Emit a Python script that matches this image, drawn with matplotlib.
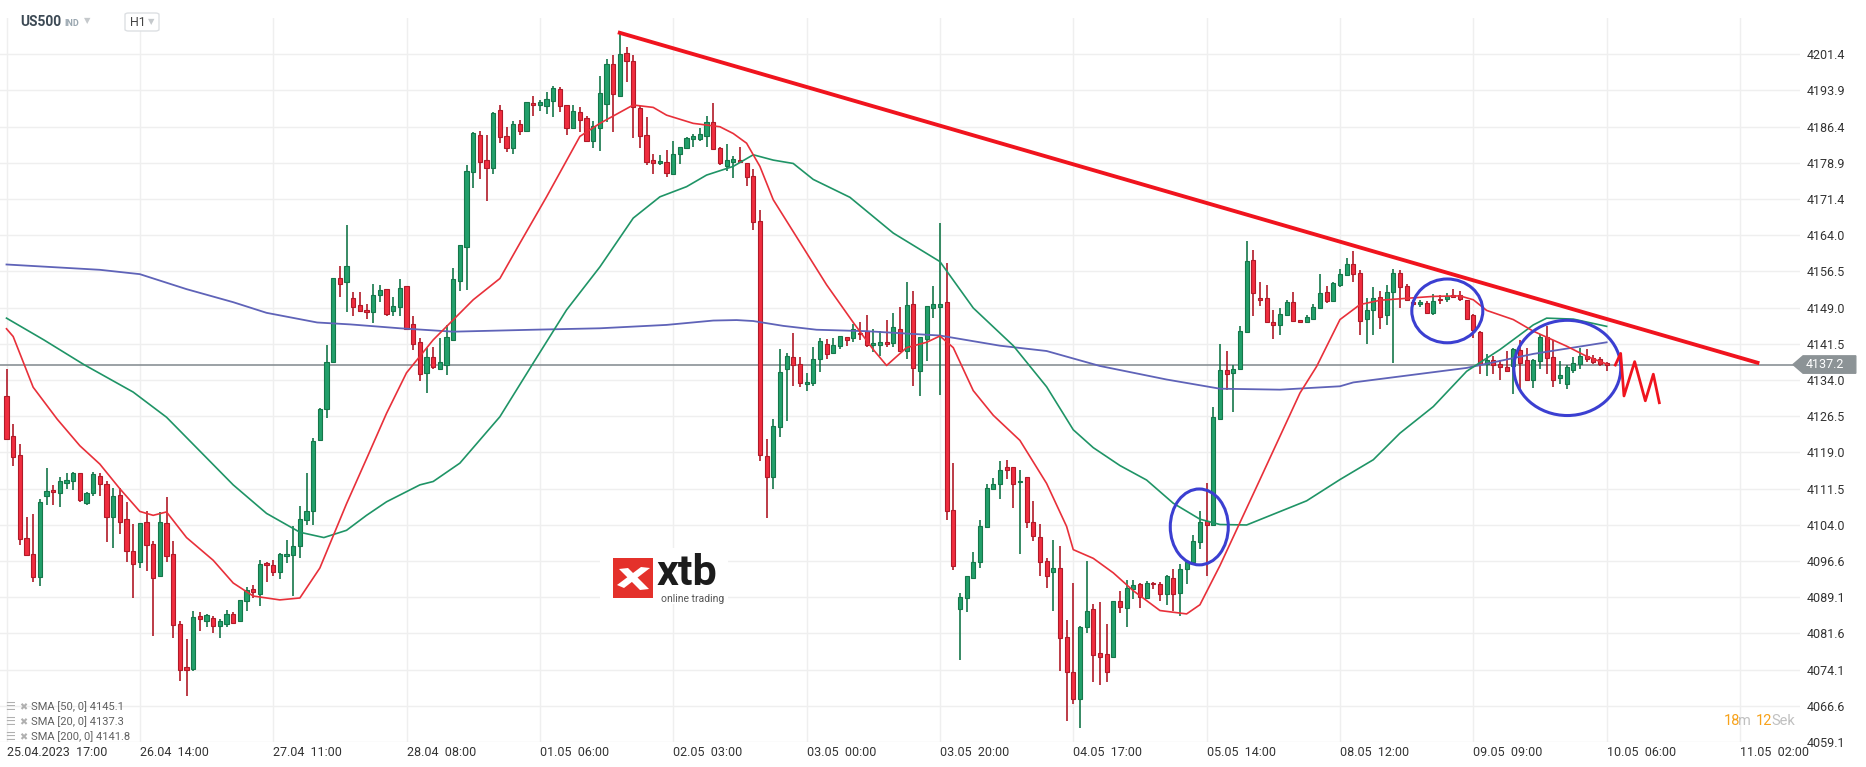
import matplotlib
matplotlib.use("Agg")
import matplotlib.pyplot as plt
from matplotlib.patches import Ellipse, Polygon, Rectangle, FancyBboxPatch
import numpy as np

plt.rcParams['font.family'] = ['Roboto', 'DejaVu Sans']

# US500, H1 kaarsen vanaf 25.04.2023 17:00 (open, high, low, close)
open_ = [4130.6, 4122.4, 4118.4, 4101.4, 4098.1, 4093.2, 4109.9, 4111.3, 4110.6, 4112.6,
         4113.1, 4114.8, 4108.6, 4110.6, 4114.2, 4112.4, 4105.7, 4110.3, 4105.3, 4098.6,
         4096.3, 4104.6, 4100.0, 4093.4, 4104.5, 4098.1, 4083.6, 4074.6, 4074.2, 4085.2,
         4084.2, 4084.8, 4083.1, 4083.6, 4085.6, 4084.2, 4088.3, 4090.8, 4089.8, 4096.1,
         4095.7, 4094.2, 4097.5, 4097.7, 4099.6, 4105.1, 4106.8, 4121.6, 4127.9, 4137.8,
         4155.1, 4154.2, 4150.9, 4149.5, 4148.5, 4148.1, 4151.6, 4152.8, 4148.3, 4149.1,
         4153.4, 4145.6, 4141.8, 4135.4, 4138.8, 4136.2, 4137.1, 4142.2, 4154.4, 4161.6,
         4177.1, 4184.7, 4179.5, 4177.8, 4189.9, 4184.5, 4182.1, 4187.0, 4185.6, 4191.3,
         4191.0, 4190.6, 4191.8, 4194.2, 4190.8, 4186.1, 4189.4, 4188.2, 4183.5, 4186.1,
         4191.1, 4199.3, 4192.8, 4201.6, 4200.0, 4190.2, 4184.7, 4179.5, 4178.8, 4179.1,
         4176.6, 4180.7, 4181.9, 4183.8, 4183.8, 4184.4, 4187.3, 4181.9, 4178.2, 4179.2,
         4179.5, 4178.8, 4176.3, 4166.9, 4118.2, 4114.0, 4124.2, 4136.2, 4138.8, 4137.3,
         4133.1, 4133.3, 4138.3, 4141.5, 4139.6, 4141.1, 4142.8, 4142.6, 4143.8, 4144.1,
         4141.2, 4141.2, 4141.8, 4141.6, 4144.6, 4140.1, 4149.8, 4135.8, 4142.4, 4148.9,
         4149.1, 4150.1, 4107.1, 4086.7, 4088.8, 4093.1, 4096.3, 4103.6, 4111.5, 4112.4,
         4115.9, 4115.9, 4112.8, 4113.9, 4104.6, 4101.5, 4096.5, 4094.3, 4095.1, 4080.9,
         4073.5, 4068.1, 4082.9, 4086.6, 4077.6, 4077.3, 4076.7, 4088.2, 4086.9, 4090.8,
         4091.7, 4088.9, 4092.0, 4091.7, 4089.8, 4093.1, 4090.0, 4094.8, 4096.3, 4100.4,
         4104.8, 4104.1, 4125.9, 4136.0, 4135.4, 4136.3, 4143.9, 4158.8, 4151.0, 4151.0,
         4145.9, 4145.3, 4147.5, 4150.1, 4146.5, 4146.1, 4146.6, 4148.9, 4152.2, 4150.3,
         4153.7, 4155.8, 4158.0, 4156.1, 4146.6, 4148.5, 4151.2, 4147.5, 4152.2, 4156.1,
         4153.4, 4150.1, 4149.7, 4149.9, 4147.9, 4150.8, 4150.8, 4151.5, 4151.5, 4150.5,
         4147.4, 4143.9, 4137.3, 4138.2, 4137.3, 4136.6, 4136.8, 4140.3, 4138.1, 4133.9,
         4137.9, 4142.9, 4138.7, 4134.4, 4133.2, 4136.1, 4137.3, 4139.0, 4138.5, 4138.3,
         4137.5]

high = [4136.3, 4124.9, 4120.8, 4105.7, 4106.2, 4109.3, 4115.8, 4112.3, 4114.0, 4114.8,
        4115.0, 4114.8, 4110.9, 4115.0, 4114.8, 4113.1, 4111.7, 4111.7, 4108.8, 4104.3,
        4104.5, 4106.8, 4100.7, 4106.6, 4109.8, 4100.6, 4084.2, 4080.5, 4086.2, 4085.9,
        4085.6, 4085.2, 4084.6, 4086.4, 4085.9, 4088.4, 4091.2, 4091.6, 4096.8, 4096.3,
        4096.8, 4098.2, 4100.8, 4103.7, 4108.0, 4114.8, 4122.0, 4128.3, 4141.3, 4155.1,
        4157.5, 4166.0, 4152.2, 4152.3, 4149.8, 4153.8, 4153.7, 4152.8, 4151.2, 4154.8,
        4153.4, 4147.3, 4142.6, 4140.6, 4140.8, 4142.6, 4145.4, 4157.1, 4161.9, 4178.5,
        4185.4, 4185.5, 4184.7, 4189.5, 4190.8, 4186.4, 4187.5, 4187.8, 4191.6, 4192.8,
        4191.9, 4193.6, 4194.8, 4194.6, 4190.8, 4190.9, 4190.4, 4188.6, 4187.6, 4196.9,
        4200.4, 4201.3, 4205.9, 4202.8, 4201.3, 4190.7, 4188.4, 4180.8, 4180.6, 4181.6,
        4183.4, 4182.2, 4184.2, 4184.8, 4186.1, 4188.6, 4191.3, 4182.3, 4182.8, 4180.4,
        4182.3, 4178.8, 4177.6, 4169.2, 4121.7, 4125.9, 4140.4, 4139.5, 4143.7, 4138.7,
        4135.4, 4140.9, 4142.6, 4142.4, 4142.7, 4143.1, 4143.0, 4145.5, 4145.9, 4147.5,
        4144.6, 4144.1, 4146.4, 4147.8, 4149.1, 4154.3, 4152.4, 4142.8, 4149.4, 4153.5,
        4166.4, 4158.3, 4116.8, 4090.0, 4093.4, 4098.4, 4105.1, 4112.5, 4113.7, 4117.2,
        4117.4, 4116.1, 4115.3, 4113.9, 4108.9, 4104.3, 4097.2, 4100.9, 4099.7, 4084.3,
        4091.9, 4083.0, 4096.5, 4087.6, 4088.0, 4083.6, 4088.2, 4090.4, 4092.6, 4092.6,
        4091.9, 4092.4, 4092.3, 4092.3, 4093.7, 4094.8, 4096.0, 4096.5, 4101.9, 4106.8,
        4112.6, 4128.5, 4141.5, 4139.9, 4137.2, 4145.1, 4162.8, 4161.0, 4154.3, 4153.7,
        4148.5, 4149.0, 4150.6, 4152.3, 4146.5, 4147.5, 4149.8, 4155.9, 4153.4, 4154.2,
        4157.0, 4159.2, 4160.6, 4156.8, 4151.0, 4153.2, 4152.5, 4153.7, 4157.0, 4156.8,
        4153.9, 4150.6, 4150.6, 4150.3, 4151.7, 4151.5, 4152.0, 4152.8, 4152.5, 4150.5,
        4147.7, 4144.2, 4139.4, 4138.9, 4138.2, 4139.9, 4140.6, 4142.3, 4140.6, 4138.3,
        4143.6, 4145.1, 4142.2, 4137.9, 4137.2, 4138.8, 4140.6, 4140.4, 4139.2, 4138.8,
        4137.7]

low = [4121.6, 4116.2, 4099.8, 4097.6, 4092.2, 4091.4, 4108.2, 4108.2, 4107.8, 4111.5,
       4111.3, 4108.8, 4108.1, 4110.1, 4110.1, 4100.4, 4099.2, 4102.1, 4096.3, 4088.9,
       4095.0, 4094.4, 4081.1, 4093.3, 4096.3, 4080.7, 4071.8, 4068.6, 4073.7, 4082.1,
       4082.8, 4081.7, 4080.6, 4082.8, 4083.6, 4084.2, 4086.2, 4088.9, 4087.2, 4092.2,
       4093.4, 4092.8, 4096.1, 4089.4, 4097.1, 4103.9, 4103.9, 4121.4, 4126.1, 4137.6,
       4151.1, 4148.1, 4147.3, 4148.1, 4146.7, 4145.8, 4150.2, 4147.2, 4147.3, 4147.3,
       4144.4, 4140.2, 4133.7, 4131.4, 4136.3, 4136.2, 4135.1, 4142.2, 4152.5, 4152.6,
       4173.7, 4175.6, 4171.1, 4176.6, 4183.1, 4181.1, 4180.8, 4184.7, 4185.5, 4188.6,
       4189.7, 4189.0, 4188.5, 4189.5, 4184.7, 4186.1, 4185.4, 4183.3, 4181.9, 4181.3,
       4187.3, 4185.4, 4192.6, 4195.7, 4184.0, 4182.1, 4178.4, 4176.7, 4178.4, 4175.9,
       4176.6, 4178.6, 4181.9, 4182.3, 4183.5, 4182.3, 4181.7, 4178.4, 4177.3, 4175.7,
       4178.8, 4174.2, 4165.1, 4117.3, 4105.5, 4111.5, 4122.3, 4125.6, 4132.8, 4132.6,
       4131.8, 4132.8, 4135.7, 4138.3, 4139.5, 4140.4, 4141.1, 4141.8, 4142.2, 4140.9,
       4139.8, 4139.0, 4140.9, 4140.9, 4139.8, 4138.3, 4132.8, 4130.6, 4138.0, 4146.8,
       4130.9, 4105.0, 4094.7, 4076.0, 4086.0, 4093.0, 4095.0, 4103.6, 4111.3, 4109.3,
       4113.5, 4107.6, 4098.0, 4103.4, 4100.6, 4093.5, 4090.9, 4086.3, 4073.8, 4063.4,
       4066.9, 4062.1, 4081.7, 4071.5, 4070.8, 4071.5, 4076.7, 4085.7, 4082.8, 4088.6,
       4086.9, 4088.8, 4090.8, 4088.3, 4087.4, 4086.3, 4085.2, 4091.7, 4096.0, 4099.1,
       4093.4, 4103.9, 4125.7, 4131.9, 4127.3, 4136.1, 4143.7, 4147.3, 4149.4, 4145.9,
       4142.5, 4143.4, 4147.3, 4145.9, 4145.8, 4146.1, 4146.5, 4148.7, 4149.9, 4150.1,
       4153.2, 4155.8, 4154.2, 4143.4, 4141.4, 4143.4, 4144.5, 4145.3, 4137.5, 4149.0,
       4150.3, 4149.6, 4149.2, 4147.7, 4147.4, 4149.8, 4150.1, 4151.0, 4150.3, 4146.6,
       4142.7, 4135.3, 4134.8, 4135.3, 4134.1, 4135.6, 4131.0, 4132.0, 4133.7, 4132.3,
       4136.3, 4135.2, 4132.5, 4133.2, 4132.1, 4135.4, 4136.3, 4137.7, 4137.4, 4137.0,
       4135.8]

close = [4121.8, 4118.1, 4101.1, 4097.7, 4093.3, 4108.8, 4111.0, 4110.9, 4113.1, 4113.4,
         4114.8, 4109.2, 4110.6, 4114.5, 4112.5, 4105.7, 4109.9, 4104.7, 4098.6, 4095.9,
         4104.5, 4099.8, 4093.0, 4104.6, 4097.6, 4083.4, 4073.9, 4073.9, 4085.0, 4084.5,
         4085.4, 4083.1, 4084.1, 4085.6, 4083.8, 4088.4, 4090.5, 4090.1, 4095.9, 4095.7,
         4094.2, 4098.0, 4097.9, 4099.6, 4105.3, 4106.8, 4121.4, 4128.0, 4137.8, 4155.1,
         4153.8, 4157.5, 4149.1, 4148.3, 4148.1, 4151.6, 4152.6, 4147.7, 4149.3, 4153.1,
         4144.6, 4141.5, 4135.2, 4138.7, 4136.6, 4137.8, 4142.8, 4154.8, 4161.9, 4177.3,
         4185.1, 4179.2, 4177.9, 4189.2, 4184.2, 4182.1, 4186.9, 4185.6, 4191.5, 4190.8,
         4191.5, 4192.2, 4194.4, 4190.6, 4186.1, 4189.7, 4187.7, 4183.5, 4186.6, 4193.3,
         4199.4, 4193.1, 4201.5, 4200.1, 4190.4, 4184.4, 4179.2, 4179.0, 4179.3, 4176.9,
         4180.7, 4182.2, 4184.0, 4184.4, 4184.8, 4187.3, 4181.7, 4179.0, 4179.5, 4179.7,
         4179.1, 4175.9, 4166.6, 4118.5, 4114.0, 4124.4, 4135.7, 4139.0, 4137.1, 4133.3,
         4133.5, 4138.3, 4142.1, 4139.4, 4141.2, 4143.1, 4142.2, 4144.6, 4143.5, 4141.2,
         4141.7, 4141.8, 4141.5, 4145.0, 4140.0, 4149.6, 4136.5, 4142.8, 4149.4, 4149.8,
         4149.8, 4106.8, 4095.6, 4089.1, 4093.4, 4096.3, 4103.7, 4111.6, 4112.4, 4115.3,
         4115.4, 4112.4, 4113.2, 4104.6, 4101.7, 4096.3, 4093.4, 4095.0, 4080.6, 4073.5,
         4068.1, 4082.9, 4086.3, 4077.2, 4076.6, 4073.5, 4088.2, 4087.1, 4090.9, 4091.5,
         4089.1, 4091.9, 4091.7, 4089.8, 4093.5, 4089.7, 4094.8, 4096.3, 4100.6, 4104.6,
         4104.1, 4126.3, 4136.0, 4135.2, 4136.3, 4144.1, 4158.7, 4152.0, 4150.5, 4146.0,
         4145.3, 4147.7, 4150.1, 4146.3, 4145.9, 4147.0, 4149.2, 4152.1, 4150.3, 4154.1,
         4155.9, 4158.0, 4155.9, 4146.3, 4148.5, 4151.0, 4147.0, 4152.3, 4156.1, 4153.2,
         4150.5, 4149.7, 4150.1, 4147.9, 4150.3, 4150.5, 4151.3, 4151.2, 4150.8, 4146.6,
         4144.4, 4137.3, 4138.2, 4137.2, 4136.6, 4135.8, 4140.4, 4137.5, 4133.9, 4138.1,
         4142.9, 4138.5, 4134.1, 4135.0, 4136.7, 4137.5, 4138.9, 4138.3, 4137.7, 4137.4,
         4137.2]

sma20_x = [0, 1, 4, 7.6, 11, 14, 17, 20, 22, 24, 27, 31, 34, 37, 41, 44, 47, 51, 54, 57,
           60, 64, 70, 74, 77, 81, 86, 89, 94, 97, 99, 103, 107, 109, 111, 113, 115, 119,
           123, 127, 130, 132, 135, 138, 140, 142, 145, 148, 152, 156, 159, 160, 163, 166,
           169, 173, 177, 179, 182, 188, 194, 196.5, 200, 203, 206, 209, 214, 218, 220,
           222, 226, 229, 234, 237, 240]
sma20_y = [4144.6, 4143.0, 4132.5, 4125.9, 4120.4, 4116.6, 4111.5, 4106.8, 4106.0, 4106.7,
           4101.4, 4096.7, 4092.0, 4089.3, 4088.5, 4088.9, 4095.1, 4108.4, 4117.7, 4127.1,
           4135.5, 4142.3, 4150.6, 4155.0, 4162.3, 4171.9, 4184.4, 4187.1, 4190.9, 4190.4,
           4188.8, 4187.1, 4186.4, 4185.0, 4183.0, 4178.2, 4171.3, 4162.5, 4153.7, 4145.9,
           4140.3, 4137.0, 4140.7, 4141.8, 4143.1, 4140.7, 4131.8, 4126.7, 4121.5, 4112.6,
           4103.7, 4098.9, 4097.1, 4094.1, 4090.4, 4086.3, 4085.6, 4087.5, 4095.6, 4113.4,
           4131.3, 4136.8, 4146.5, 4149.6, 4150.5, 4150.8, 4151.3, 4151.4, 4150.6, 4148.4,
           4146.5, 4144.1, 4141.0, 4138.9, 4137.3]

sma50_x = [0, 5.6, 11.6, 19, 24, 29, 34, 39, 44, 47.6, 51, 54, 57, 62, 64, 68, 74, 79, 84,
           89, 94, 98, 102, 105, 109, 112, 115, 118, 121, 126.5, 133, 140, 145, 151, 156,
           160, 163, 167, 171, 175, 179, 182, 186, 195, 200, 205, 209, 214, 219, 224, 229,
           231, 235, 240]
sma50_y = [4146.8, 4142.3, 4137.2, 4131.5, 4126.3, 4119.3, 4112.3, 4106.4, 4102.5, 4101.4,
           4102.9, 4106.0, 4108.8, 4112.3, 4113.0, 4116.8, 4126.4, 4137.5, 4148.5, 4157.4,
           4167.5, 4171.9, 4174.0, 4176.4, 4178.2, 4180.6, 4179.5, 4178.8, 4175.5, 4171.8,
           4164.4, 4158.5, 4148.9, 4141.1, 4132.6, 4123.7, 4120.0, 4116.3, 4113.3, 4108.5,
           4105.2, 4104.1, 4104.0, 4109.0, 4113.4, 4117.5, 4123.0, 4128.5, 4135.8, 4140.3,
           4145.4, 4146.8, 4146.6, 4145.1]

sma200_x = [0, 14, 20, 27, 34, 39, 46.6, 51.6, 59, 67, 79, 89, 99, 106, 109.5, 112, 116.5,
            121.5, 129, 140, 149, 156, 164, 174, 182, 191, 200, 202, 219, 229, 240]
sma200_y = [4157.9, 4156.8, 4155.9, 4152.8, 4150.1, 4147.9, 4145.9, 4145.5, 4144.7, 4144.0,
            4144.4, 4144.7, 4145.4, 4146.3, 4146.4, 4146.2, 4145.2, 4144.4, 4144.1, 4143.2,
            4141.1, 4140.0, 4136.9, 4134.1, 4132.2, 4132.0, 4132.7, 4133.5, 4136.5, 4139.4,
            4141.8]

time_pos = [0, 20, 40, 60, 80, 100, 120, 140, 160, 180, 200, 220, 240, 260]
time_labels = ["25.04.2023  17:00", "26.04  14:00", "27.04  11:00", "28.04  08:00",
               "01.05  06:00", "02.05  03:00", "03.05  00:00", "03.05  20:00",
               "04.05  17:00", "05.05  14:00", "08.05  12:00", "09.05  09:00",
               "10.05  06:00", "11.05  02:00"]
price_ticks = [4201.4, 4193.9, 4186.4, 4178.9, 4171.4, 4164.0, 4156.5, 4149.0, 4141.5,
               4134.0, 4126.5, 4119.0, 4111.5, 4104.0, 4096.6, 4089.1, 4081.6, 4074.1,
               4066.6, 4059.1]
last_price = 4137.2

# Getekende aantekeningen: trendlijn, cirkels en zigzag (kaars-index, koers)
trend_x = [91.7, 262.9]
trend_y = [4205.95, 4137.46]
circles = [(178.9, 4103.6, 8.7, 15.7), (216.1, 4148.3, 10.65, 13.2), (234.1, 4136.5, 16.05, 19.7)]
zigzag_x = [241.3, 242.1, 242.6, 244.2, 245.8, 247.0, 247.9]
zigzag_y = [4137.1, 4139.5, 4130.7, 4137.8, 4129.7, 4135.2, 4129.3]

W, H = 1866, 767


def fx(x):
    return x / W


def fy(y):
    return 1 - y / H


fig = plt.figure(figsize=(W / 100, H / 100), dpi=100)
ax = fig.add_axes([0, fy(742), fx(1800), fy(18) - fy(742)])
ax.set_xlim(-0.975, 269.0)
ax.set_ylim(4059.1, 4208.9)

# raster
ax.set_xticks(time_pos)
ax.set_xticklabels(time_labels, ha='left')
ax.set_yticks(price_ticks)
ax.set_yticklabels(['%.1f' % p for p in price_ticks])
ax.yaxis.tick_right()
ax.grid(color='#efefef', lw=1, zorder=0)
ax.tick_params(axis='x', length=0, pad=3, labelsize=9, labelcolor='#333333')
ax.tick_params(axis='y', length=0, pad=4.5, labelsize=9, labelcolor='#333333')
for s in ax.spines.values():
    s.set_visible(False)

# huidige koers
ax.axhline(last_price, color='#8a9196', lw=1.2, zorder=2)

# kaarsen
idx = np.arange(len(close))
o = np.array(open_)
c = np.array(close)
up = c >= o
body_col = np.where(up, '#22a06b', '#f02d3f')
edge_col = np.where(up, '#15774a', '#b01a28')
ax.vlines(idx, low, high, colors=edge_col, lw=1.2, zorder=3)
ax.bar(idx, np.maximum(np.abs(c - o), 0.25), bottom=np.minimum(o, c), width=0.62,
       color=body_col, edgecolor=edge_col, lw=0.8, zorder=4)

# SMA's
ax.plot(sma200_x, sma200_y, color='#5f63b8', lw=1.3, zorder=5)
ax.plot(sma50_x, sma50_y, color='#1f9466', lw=1.2, zorder=5)
ax.plot(sma20_x, sma20_y, color='#e8303a', lw=1.2, zorder=5)

# aantekeningen
ax.plot(trend_x, trend_y, color='#f0141e', lw=2.8, solid_capstyle='butt', zorder=6)
for cx, cy, w, h in circles:
    ax.add_patch(Ellipse((cx, cy), w, h, fill=False, ec='#3b3fd1', lw=2.2, zorder=7))
ax.plot(zigzag_x, zigzag_y, color='#f0141e', lw=2, zorder=7)

# prijslabel rechts
tr = ax.get_yaxis_transform()
tag = Polygon([(0.9961, last_price), (1.0017, last_price + 1.8), (1.031, last_price + 1.8),
               (1.031, last_price - 1.8), (1.0017, last_price - 1.8)],
              closed=True, color='#8c9396', transform=tr, clip_on=False, zorder=8)
ax.add_patch(tag)
ax.text(1.0033, last_price, '%.1f' % last_price, transform=tr, color='white', fontsize=9,
        ha='left', va='center', zorder=9, clip_on=False)

# kop
fig.text(fx(20), fy(22), 'US500', fontsize=10, fontweight='bold', color='#3d4a55', va='center')
fig.text(fx(64), fy(23), 'IND', fontsize=6.5, fontweight='bold', color='#9aa7b0', va='center')
fig.text(fx(84), fy(21), '▼', fontsize=6, color='#c5c9cc', va='center')
fig.patches.append(FancyBboxPatch((fx(125), fy(31)), fx(34), 18 / H,
                                  boxstyle='round,pad=0,rounding_size=0.002',
                                  transform=fig.transFigure, fc='white', ec='#dde0e3', lw=1))
fig.text(fx(130), fy(23), 'H1', fontsize=9, color='#444444', va='center')
fig.text(fx(148), fy(22), '▼', fontsize=6, color='#c5c9cc', va='center')

# legenda linksonder
legend_rows = ['SMA [50, 0] 4145.1', 'SMA [20, 0] 4137.3', 'SMA [200, 0] 4141.8']
for k, txt in enumerate(legend_rows):
    y = 707 + k * 15
    fig.text(fx(5), fy(y), '☰', fontsize=8, color='#b0b0b0', va='center',
             family=['DejaVu Sans'])
    fig.text(fx(19), fy(y), '✖', fontsize=7, color='#b0b0b0', va='center',
             family=['DejaVu Sans'])
    fig.text(fx(31), fy(y), txt, fontsize=8, color='#606060', va='center')

# timer rechtsonder
fig.text(fx(1724), fy(721), '18', fontsize=10.5, color='#f7a21b', va='center')
fig.text(fx(1738), fy(721), 'm', fontsize=10.5, color='#c0c0c0', va='center')
fig.text(fx(1756), fy(721), '12', fontsize=10.5, color='#f7a21b', va='center')
fig.text(fx(1771), fy(721), 'Sek', fontsize=10.5, color='#c0c0c0', va='center')

# xtb logo
fig.patches.append(Rectangle((fx(600), fy(604)), fx(128), 56 / H, transform=fig.transFigure,
                             fc='white', ec='none'))
fig.patches.append(Rectangle((fx(613), fy(598)), fx(40), 40 / H, transform=fig.transFigure,
                             fc='#e4312b', ec='none'))
xa = [(617, 585), (624, 588), (650, 568), (641, 567)]
xb = [(619, 569), (628, 568), (649, 589), (640, 590)]
for pts in (xa, xb):
    fig.patches.append(Polygon([(fx(a), fy(b)) for a, b in pts], closed=True,
                               transform=fig.transFigure, fc='white', ec='none'))
fig.text(fx(657), fy(585), 'xtb', fontsize=31, fontweight='bold', color='#1c1c1c',
         va='baseline')
fig.text(fx(661), fy(594), 'online trading', fontsize=7.5, color='#555555', va='top')

fig.savefig('out.png', dpi=100, facecolor='white')
